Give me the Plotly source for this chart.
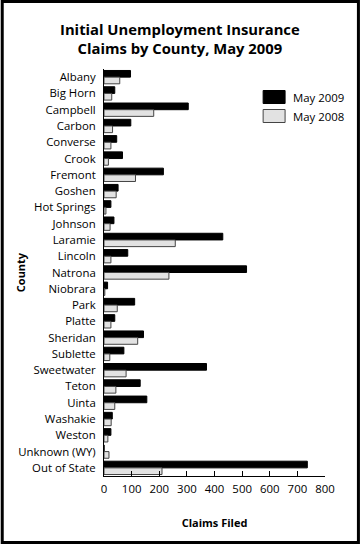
import plotly.graph_objects as go

counties = ["Albany", "Big Horn", "Campbell", "Carbon", "Converse", "Crook", "Fremont",
            "Goshen", "Hot Springs", "Johnson", "Laramie", "Lincoln", "Natrona", "Niobrara",
            "Park", "Platte", "Sheridan", "Sublette", "Sweetwater", "Teton", "Uinta",
            "Washakie", "Weston", "Unknown (WY)", "Out of State"]
may2009 = [96, 39, 305, 97, 46, 67, 215, 51, 25, 36, 430, 86, 516, 13, 111, 39, 143, 72,
           371, 131, 155, 30, 25, 0, 736]
may2008 = [57, 28, 180, 31, 25, 16, 114, 44, 7, 22, 258, 25, 235, 3, 48, 25, 122, 21,
           80, 43, 39, 26, 14, 18, 210]
x_ticks = [0, 100, 200, 300, 400, 500, 600, 700, 800]
series_names = ["May 2009", "May 2008"]
series_colors = ["#000000", "#e2e2e2"]
series_lines = ["#000000", "#444444"]

W, H = 360, 544
L, R, T, B = 103.5, 35, 69, 68
pw, ph = W - L - R, H - T - B

font = "Open Sans, Lato, sans-serif"


def px(x):
    return (x - L) / pw


def py(y):
    return 1 - (y - T) / ph


fig = go.Figure()
for vals, name, col, lc in zip([may2009, may2008], series_names, series_colors, series_lines):
    fig.add_trace(go.Bar(y=counties, x=vals, orientation="h", name=name,
                         marker=dict(color=col, line=dict(color=lc, width=1))))

shapes = [dict(type="rect", xref="paper", yref="paper",
               x0=px(1.5), x1=px(W - 1.5), y0=py(H - 1.5), y1=py(1.5),
               line=dict(color="black", width=3))]
annotations = [
    dict(text="<b>Initial Unemployment Insurance<br>Claims by County, May 2009</b>",
         xref="paper", yref="paper", x=px(W / 2), y=py(38), xanchor="center",
         yanchor="middle", showarrow=False, font=dict(size=14.8)),
    dict(text="<b>County</b>", xref="paper", yref="paper", x=px(20), y=0.5,
         xanchor="center", yanchor="middle", textangle=-90, showarrow=False,
         font=dict(size=11)),
]
leg_y = [97, 116]
for i, (name, col, lc) in enumerate(zip(series_names, series_colors, series_lines)):
    shapes.append(dict(type="rect", xref="paper", yref="paper",
                       x0=px(263), x1=px(285), y0=py(leg_y[i] + 6.5), y1=py(leg_y[i] - 6.5),
                       fillcolor=col, line=dict(color=lc, width=1)))
    annotations.append(dict(text=name, xref="paper", yref="paper", x=px(291), y=py(leg_y[i]),
                            xanchor="left", yanchor="middle", showarrow=False,
                            font=dict(size=11.4)))

fig.update_layout(
    width=W, height=H,
    margin=dict(l=L, r=R, t=T, b=B, autoexpand=False),
    paper_bgcolor="white", plot_bgcolor="white",
    barmode="group", bargap=0.18, bargroupgap=0,
    font=dict(family=font, size=11.4, color="black"),
    showlegend=False,
    xaxis=dict(range=[0, 800], tickvals=x_ticks, ticks="inside", ticklen=5,
               tickcolor="black", showline=True, linecolor="black", linewidth=1,
               showgrid=False, zeroline=False, ticklabelstandoff=2,
               title=dict(text="<b>Claims Filed</b>", font=dict(size=11), standoff=24)),
    yaxis=dict(categoryorder="array", categoryarray=counties, autorange="reversed",
               showline=True, linecolor="black", linewidth=1, showgrid=False,
               ticks="", ticklabelstandoff=5),
    shapes=shapes,
    annotations=annotations,
)

fig.write_html("out.html", config={"displayModeBar": False},
               post_script="document.body.style.margin='0';document.body.style.overflow='hidden';")
